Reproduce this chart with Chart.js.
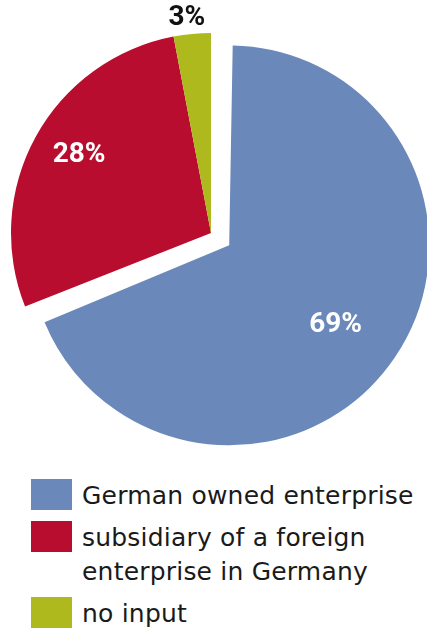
<!DOCTYPE html>
<html>
<head>
<meta charset="utf-8">
<script src="https://cdn.jsdelivr.net/npm/chart.js@4"></script>
<style>
  body { margin: 0; background: #fff; width: 427px; height: 633px; overflow: hidden; position: relative; }
  #pie { position: absolute; left: 0; top: 0; }
  .legend { position: absolute; left: 31px; top: 480px; margin: 0; padding: 0; list-style: none; font-family: "DejaVu Sans", sans-serif; }
  .legend li { position: relative; padding-left: 51px; color: #1a1a1a; font-size: 25px; letter-spacing: 0.2px; line-height: 34px; margin-bottom: 9px; }
  .legend li .box { position: absolute; left: 0; top: 0; width: 41px; height: 31px; }
  .legend li .txt { display: block; margin-top: -1px; }
</style>
</head>
<body>
<canvas id="pie" width="427" height="465"></canvas>
<ul class="legend" id="legend"></ul>
<script>
// ownership shares in percent
const categories = ['German owned enterprise', 'subsidiary of a foreign\nenterprise in Germany', 'no input'];
const shares = [69, 28, 3];
const sliceColors = ['#6a89ba', '#b80d2e', '#aeb91e'];

const PIE_RADIUS = 200;
// label placement: fraction of radius from the slice centre, angle nudge (deg), text colour
const labelRadius = [0.665, 0.766, 1.08];
const labelNudge = [2.7, 1.8, -1];
const labelColors = ['#ffffff', '#ffffff', '#111111'];

// an offset arc is drawn offset/4 away and offset/4 larger (for > 180deg);
// shrink it back so every slice keeps the same radius
const keepRadius = {
  id: 'keepRadius',
  beforeDatasetsDraw(chart) {
    chart.getDatasetMeta(0).data.forEach(arc => {
      const off = (arc.options.offset || 0) / 4;
      const fix = 1 - Math.sin(Math.min(Math.PI, arc.circumference || 0));
      arc.outerRadius = PIE_RADIUS - off * fix;
    });
  }
};

const percentLabels = {
  id: 'percentLabels',
  afterDatasetsDraw(chart) {
    const ctx = chart.ctx;
    const meta = chart.getDatasetMeta(0);
    ctx.save();
    ctx.font = 'bold 28px Roboto';
    ctx.textAlign = 'center';
    ctx.textBaseline = 'middle';
    meta.data.forEach((arc, i) => {
      const p = arc.getProps(['x', 'y', 'startAngle', 'endAngle'], true);
      const mid = (p.startAngle + p.endAngle) / 2;
      const off = (arc.options.offset || 0) / 4;
      const a = mid + labelNudge[i] * Math.PI / 180;
      const r = PIE_RADIUS * labelRadius[i];
      const x = p.x + Math.cos(mid) * off + Math.cos(a) * r;
      const y = p.y + Math.sin(mid) * off + Math.sin(a) * r;
      ctx.fillStyle = labelColors[i];
      ctx.fillText(shares[i] + '%', x, y);
    });
    ctx.restore();
  }
};

new Chart(document.getElementById('pie'), {
  type: 'pie',
  data: {
    labels: categories,
    datasets: [{
      data: shares,
      backgroundColor: sliceColors,
      borderWidth: 0,
      offset: [88, 0, 0],
      clip: false
    }]
  },
  options: {
    responsive: false,
    animation: false,
    radius: PIE_RADIUS,
    layout: { padding: { left: 0, right: 5, top: 22, bottom: 21 } },
    plugins: {
      legend: { display: false },
      tooltip: { enabled: false }
    }
  },
  plugins: [keepRadius, percentLabels]
});

// legend below the pie
const legend = document.getElementById('legend');
categories.forEach((name, i) => {
  const li = document.createElement('li');
  const box = document.createElement('span');
  box.className = 'box';
  box.style.background = sliceColors[i];
  const txt = document.createElement('span');
  txt.className = 'txt';
  txt.innerHTML = name.split('\n').join('<br>');
  li.appendChild(box);
  li.appendChild(txt);
  legend.appendChild(li);
});
</script>
</body>
</html>
